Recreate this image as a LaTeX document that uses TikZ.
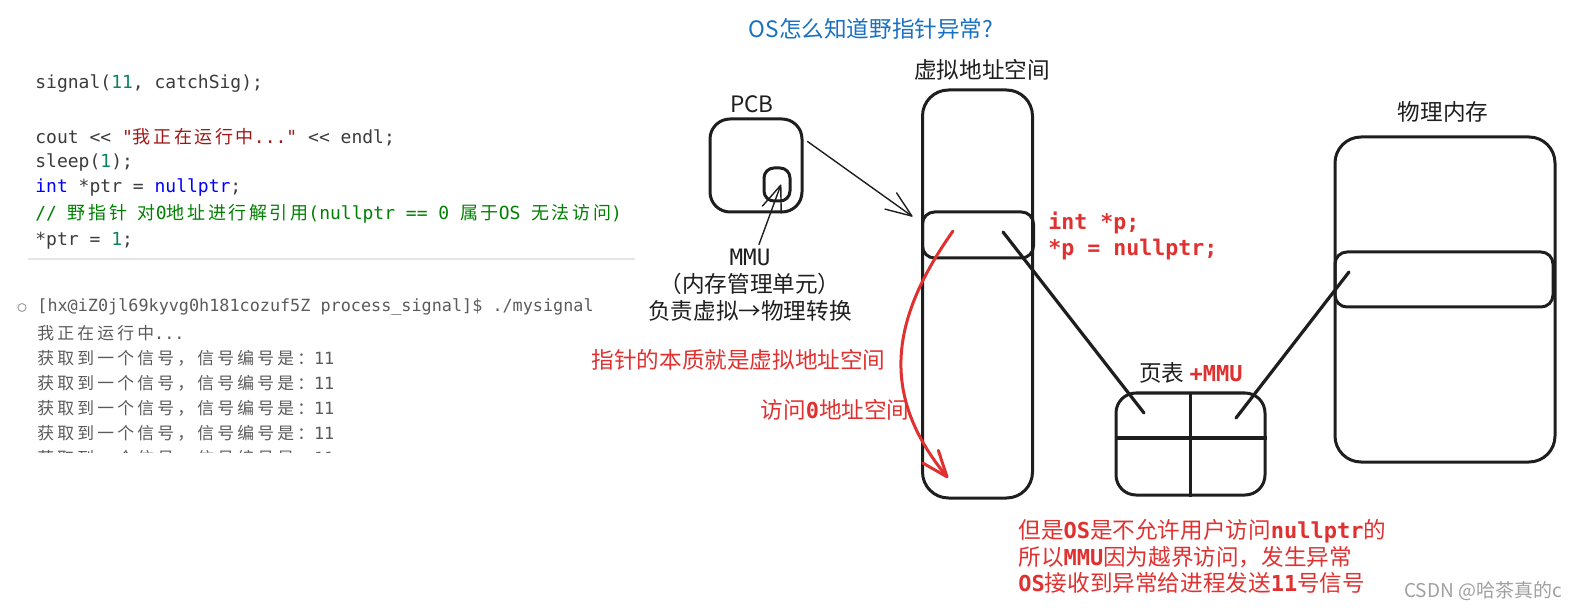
\documentclass[tikz,border=0pt]{standalone}
\usepackage{fontspec}
\setmainfont{Noto Sans CJK SC}
\newfontfamily\monoFont{DejaVu Sans Mono}
\newfontfamily\cjkCode[LetterSpace=14.5]{Noto Sans CJK SC}
\newfontfamily\cjkTerm[LetterSpace=19]{Noto Sans CJK SC}
\usepackage{xcolor}
\usepackage{tikz}
\usetikzlibrary{positioning}
\usetikzlibrary{arrows.meta}

\definecolor{inkBlack}{HTML}{1E1E1E}
\definecolor{drawRed}{HTML}{E03131}
\definecolor{drawBlue}{HTML}{1971C2}
\definecolor{codeGray}{HTML}{3B3B3B}
\definecolor{codeNum}{HTML}{098658}
\definecolor{codeStr}{HTML}{A31515}
\definecolor{codeKey}{HTML}{0000FF}
\definecolor{codeCmt}{HTML}{008000}
\definecolor{termGray}{HTML}{5A5A5A}
\definecolor{sepGray}{HTML}{E6E6E6}
\definecolor{markGray}{HTML}{A0A0A0}

\newcommand{\redMono}[1]{{\monoFont\bfseries\fontsize{11pt}{13.25pt}\selectfont #1}}

\begin{document}
\begin{tikzpicture}[
        x=0.5pt, y=-0.5pt,
        >={Straight Barb[length=13pt, width=10pt, round]},
        codeLine/.style = { anchor=west, inner sep=0pt, text=codeGray, font=\monoFont\fontsize{9pt}{11pt}\selectfont },
        termLine/.style = { anchor=west, inner sep=0pt, text=termGray, font=\monoFont\fontsize{8.4pt}{10pt}\selectfont },
        sketchBox/.style = { rectangle, draw=inkBlack, line width=1.5pt, rounded corners=12pt, inner sep=0pt },
        tagText/.style = { inner sep=0pt, text=inkBlack, font=\fontsize{11.3pt}{13.5pt}\selectfont },
        redNote/.style = { inner sep=0pt, text=drawRed, font=\fontsize{11.3pt}{13.25pt}\selectfont },
        wire/.style = { draw=inkBlack, line width=1.6pt, line cap=round },
        gridLine/.style = { draw=inkBlack, line width=1.6pt },
        thinArrow/.style = { ->, draw=inkBlack, line width=0.7pt, line cap=round },
        redArrow/.style = { ->, draw=drawRed, line width=1.5pt, line cap=round },
        sepLine/.style = { draw=sepGray, line width=1pt },
        ]
        \def\onePx{0.5pt}
        \useasboundingbox (0,0) rectangle (1575,609);

        % code pane
        \node[codeLine] (signalLine) at (35,84) {signal(\textcolor{codeNum}{11}, catchSig);};
        \node[codeLine] (coutLine) at (35,137) {cout <{}< \textcolor{codeStr}{"{\cjkCode 我正在运行中}..."} <{}< endl;};
        \node[codeLine] (sleepLine) at (35,162) {sleep(\textcolor{codeNum}{1});};
        \node[codeLine] (ptrLine) at (35,187) {\textcolor{codeKey}{int} *ptr = \textcolor{codeKey}{nullptr};};
        \node[codeLine, text=codeCmt] (commentLine) at (35,214) {// {\cjkCode 野指针} {\cjkCode 对}0{\cjkCode 地址进行解引用}(nullptr == 0 {\cjkCode 属于}OS {\cjkCode 无法访问})};
        \node[codeLine] (derefLine) at (35,241) {*ptr = \textcolor{codeNum}{1};};
        \draw[sepLine] (28,259) -- (635,259);

        % terminal output
        \node[circle, draw=markGray, line width=0.5pt, minimum size=8*\onePx, inner sep=0pt] (termDot) at (22,307.5) {};
        \node[termLine] (termCmd) at (37,307.5) {[hx@iZ0jl69kyvg0h181cozuf5Z process\_signal]\$ ./mysignal};
        \node[termLine] (termRun) at (37,333) {{\cjkTerm 我正在运行中}...};
        \foreach \row in {358,383,408,433}
            \node[termLine] (termSig\row) at (37,\row) {{\cjkTerm 获取到一个信号，信号编号是：}11};
        \begin{scope}
            \clip (0,447) rectangle (640,452);
            \node[termLine] (termCut) at (37,458) {{\cjkTerm 获取到一个信号，信号编号是：}11};
        \end{scope}

        % titles
        \node[tagText, text=drawBlue] (osQuestion) at (871,29) {OS怎么知道野指针异常?};
        \node[tagText] (vasTitle) at (982,70) {虚拟地址空间};
        \node[tagText] (pcbTitle) at (752,104) {PCB};
        \node[tagText] (physTitle) at (1443,112) {物理内存};

        % boxes
        \node[sketchBox, rounded corners=10pt, minimum width=92*\onePx, minimum height=93*\onePx] (pcbBox) at (756,165.5) {};
        \node[sketchBox, rounded corners=5pt, minimum width=26*\onePx, minimum height=33*\onePx] (mmuBox) at (777,184.5) {};
        \node[sketchBox, rounded corners=13pt, minimum width=110*\onePx, minimum height=408*\onePx] (vasBox) at (977.5,294) {};
        \node[sketchBox, rounded corners=6pt, minimum width=111*\onePx, minimum height=46*\onePx] (vasSlot) at (978,235) {};
        \node[sketchBox, rounded corners=13pt, minimum width=220*\onePx, minimum height=325*\onePx] (physBox) at (1445,299.5) {};
        \node[sketchBox, rounded corners=6pt, minimum width=218*\onePx, minimum height=55*\onePx] (physSlot) at (1444,279.5) {};
        \node[sketchBox, rounded corners=10pt, minimum width=149*\onePx, minimum height=102*\onePx] (pageBox) at (1190.5,444) {};
        \draw[gridLine] (pageBox.north) -- (pageBox.south);
        \draw[gridLine] ([yshift=6*\onePx]pageBox.west) -- ([yshift=6*\onePx]pageBox.east);

        % labels
        \node[tagText] (pageTitle) at (1191,373) {页表 \textcolor{drawRed}{\redMono{+MMU}}};
        \node[tagText, align=center] (mmuNote) at (750,285) {{\monoFont MMU}\\（内存管理单元）\\负责虚拟→物理转换};
        \node[redNote, anchor=west, align=left, font=\monoFont\bfseries\fontsize{10.8pt}{13pt}\selectfont] (ptrCode) at (1048,236) {int *p;\\{}*p = nullptr;};
        \node[redNote] (ptrNote) at (738.5,360) {指针的本质就是虚拟地址空间};
        \node[redNote] (zeroNote) at (835,410) {访问\redMono{0}地址空间};
        \node[redNote, anchor=west, align=left] (faultNote) at (1018,556.5) {但是\redMono{OS}是不允许用户访问\redMono{nullptr}的\\所以\redMono{MMU}因为越界访问，发生异常\\\redMono{OS}接收到异常给进程发送\redMono{11}号信号};
        \node[inner sep=0pt, text=markGray, font=\fontsize{9.5pt}{11pt}\selectfont] (csdnMark) at (1483,591) {CSDN @哈茶真的c};

        % arrows
        \draw[thinArrow] ([xshift=4*\onePx, yshift=-24*\onePx]pcbBox.north east) -- ([xshift=-8.5*\onePx, yshift=-6*\onePx]vasSlot.north west);
        \draw[thinArrow] ([xshift=9*\onePx, yshift=4*\onePx]mmuNote.north) -- ([xshift=4*\onePx]mmuBox.center);

        \coordinate (vasPtr) at (1003,232);
        \coordinate (pageLeft) at (1144,413);
        \coordinate (pageRight) at (1236,418);
        \coordinate (physPtr) at (1349,272);
        \draw[wire] (vasPtr) -- (pageLeft);
        \draw[wire] (pageRight) -- (physPtr);

        \coordinate (ptrStart) at (953,231);
        \coordinate (zeroAddr) at (948,478);
        \draw[redArrow] (ptrStart) .. controls (890,320) and (880,395) .. (zeroAddr);
\end{tikzpicture}
\end{document}
